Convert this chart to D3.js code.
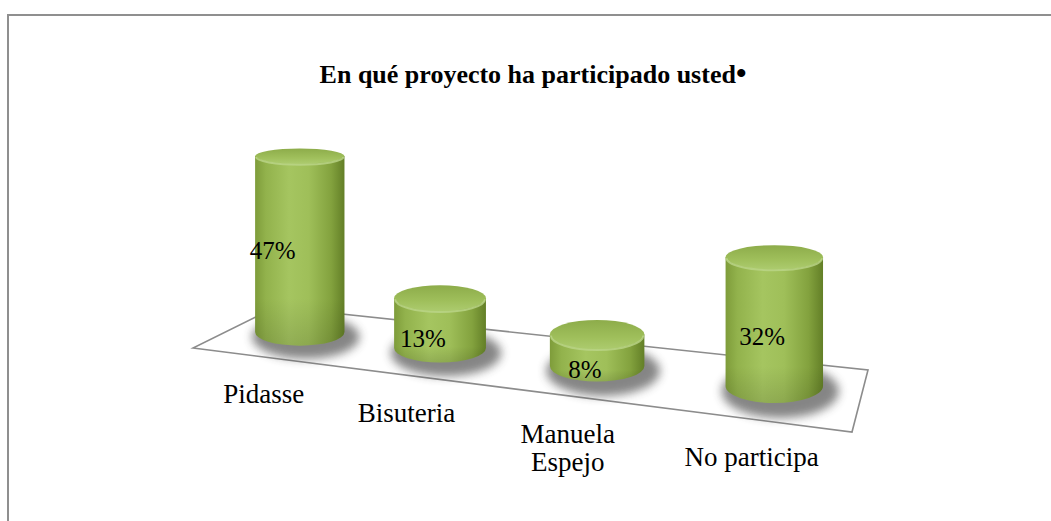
<!DOCTYPE html>
<html><head><meta charset="utf-8">
<script src="https://cdn.jsdelivr.net/npm/d3@7"></script>
<style>
html,body{margin:0;padding:0;background:#fff;}
svg{display:block}
svg text{font-family:"Liberation Serif","Times New Roman",Times,serif;}
</style>
</head><body>
<svg id="chart" width="1051" height="521"></svg>
<script>
const categories = ["Pidasse", "Bisuteria", "Manuela Espejo", "No participa"];
const categoryLines = [["Pidasse"], ["Bisuteria"], ["Manuela", "Espejo"], ["No participa"]];
const values = [0.47, 0.13, 0.08, 0.32];
const valueLabels = ["47%", "13%", "8%", "32%"];
const titleText = "En qué proyecto ha participado usted";

const svg = d3.select("#chart");
const defs = svg.append("defs");

const bodyG = defs.append("linearGradient").attr("id", "bodyG").attr("x1", 0).attr("x2", 1).attr("y1", 0).attr("y2", 0);
[[0, "#7e9c3a"], [0.12, "#92b24c"], [0.38, "#a5c560"], [0.6, "#9fbf59"], [0.85, "#83a23e"], [1, "#637f27"]]
  .forEach(([o, c]) => bodyG.append("stop").attr("offset", o).attr("stop-color", c));
const topG = defs.append("linearGradient").attr("id", "topG").attr("x1", 0).attr("x2", 0).attr("y1", 0).attr("y2", 1);
[[0, "#8dac4a"], [0.6, "#9fbf5b"], [1, "#accb6e"]]
  .forEach(([o, c]) => topG.append("stop").attr("offset", o).attr("stop-color", c));
const shadeG = defs.append("linearGradient").attr("id", "shadeG").attr("x1", 0).attr("x2", 0).attr("y1", 0).attr("y2", 1);
[[0, "#000", 0], [0.75, "#000", 0], [1, "#000", 0.12]]
  .forEach(([o, c, a]) => shadeG.append("stop").attr("offset", o).attr("stop-color", c).attr("stop-opacity", a));
defs.append("filter").attr("id", "blur").attr("x", "-50%").attr("y", "-50%").attr("width", "200%").attr("height", "200%")
  .append("feGaussianBlur").attr("stdDeviation", 5);

// frame
svg.append("rect").attr("x", 8).attr("y", 15).attr("width", 1100).attr("height", 560)
  .attr("fill", "none").attr("stroke", "#8f8f8f").attr("stroke-width", 2);

// title
const title = svg.append("text").attr("x", 533).attr("y", 83).attr("text-anchor", "middle")
  .attr("font-size", 26).attr("font-weight", "bold").attr("fill", "#000").text(titleText);
title.append("tspan").attr("font-size", 30).text("•");

// perspective floor (homography from unit square)
const P00 = [193, 348], P10 = [852, 432], P11 = [868, 370], P01 = [276, 307];
function makeH(p0, p1, p2, p3) {
  const [x0, y0] = p0, [x1, y1] = p1, [x2, y2] = p2, [x3, y3] = p3;
  const dx1 = x1 - x2, dx2 = x3 - x2, dx3 = x0 - x1 + x2 - x3;
  const dy1 = y1 - y2, dy2 = y3 - y2, dy3 = y0 - y1 + y2 - y3;
  const den = dx1 * dy2 - dx2 * dy1;
  const g = (dx3 * dy2 - dx2 * dy3) / den, h = (dx1 * dy3 - dx3 * dy1) / den;
  const a = x1 - x0 + g * x1, b = x3 - x0 + h * x3, c = x0;
  const d = y1 - y0 + g * y1, e = y3 - y0 + h * y3, f = y0;
  return (u, v) => { const w = g * u + h * v + 1; return [(a * u + b * v + c) / w, (d * u + e * v + f) / w, w]; };
}
const proj = makeH(P00, P10, P11, P01);

svg.append("path")
  .attr("d", d3.line()([[0, 0], [1, 0], [1, 1], [0, 1]].map(([u, v]) => proj(u, v).slice(0, 2))) + "Z")
  .attr("fill", "none").attr("stroke", "#8c8c8c").attr("stroke-width", 1.6);

const xBand = d3.scaleBand().domain(categories).range([0.005, 1.015]);
const yScale = d3.scaleLinear().domain([0, 1]).range([0, 380]);
const ratio = y => 0.05 + y * 0.00077;
const persp = w => Math.pow(w, 0.42);

const bars = categories.map((c, i) => {
  const u = xBand(c) + xBand.bandwidth() / 2;
  const cx = proj(u, 0.45)[0];
  const [, by, w] = proj(u, 0.55);
  const h = yScale(values[i]) / persp(w);
  const rx = 45.5 / Math.sqrt(w);
  const ty = by - h;
  return { c, i, u, cx, by, ty, h, w, rx, ryB: rx * ratio(by), ryT: rx * ratio(ty) };
});

const g = svg.append("g");
g.selectAll("ellipse.shadow").data(bars).join("ellipse").attr("class", "shadow")
  .attr("cx", d => d.cx + 6).attr("cy", d => d.by + 5)
  .attr("rx", d => d.rx * 1.2).attr("ry", d => d.ryB * 1.6)
  .attr("fill", "#444").attr("opacity", 0.65).attr("filter", "url(#blur)");

const cyl = g.selectAll("g.cyl").data(bars).join("g").attr("class", "cyl");
const bodyPath = d => `M${d.cx - d.rx},${d.ty} L${d.cx - d.rx},${d.by} A${d.rx},${d.ryB} 0 0 0 ${d.cx + d.rx},${d.by} L${d.cx + d.rx},${d.ty} Z`;
cyl.append("path").attr("d", bodyPath).attr("fill", "url(#bodyG)");
cyl.append("path").attr("d", bodyPath).attr("fill", "url(#shadeG)");
cyl.append("ellipse").attr("cx", d => d.cx).attr("cy", d => d.ty).attr("rx", d => d.rx).attr("ry", d => d.ryT)
  .attr("fill", "url(#topG)");
cyl.append("path")
  .attr("d", d => `M${d.cx - d.rx + 1},${d.ty + 1} A${d.rx - 1},${d.ryT} 0 0 0 ${d.cx + d.rx - 1},${d.ty + 1}`)
  .attr("fill", "none").attr("stroke", "#bcd68a").attr("stroke-width", 2).attr("opacity", 0.8);

// value labels
g.selectAll("text.val").data(bars).join("text").attr("class", "val")
  .attr("x", d => proj(d.u, 0.15)[0] + 4 - 50 * (d.u - 0.5) * (d.u - 0.5))
  .attr("y", d => { const p = proj(d.u, 0.15); return p[1] - 1 - 0.55 * yScale(values[d.i]) / persp(p[2]); })
  .attr("text-anchor", "middle").attr("dominant-baseline", "central")
  .attr("font-size", 25).attr("fill", "#000")
  .text(d => valueLabels[d.i]);

// category labels
const cat = svg.selectAll("text.cat").data(bars).join("text").attr("class", "cat")
  .attr("text-anchor", "middle").attr("font-size", 27).attr("fill", "#000");
cat.each(function (d) {
  const p = proj(d.u, 0);
  const t = d3.select(this);
  categoryLines[d.i].forEach((line, k) => {
    t.append("tspan").attr("x", p[0] + 3 - 14 * d.u).attr("y", p[1] + 46 + k * 28).text(line);
  });
});
</script>
</body></html>
